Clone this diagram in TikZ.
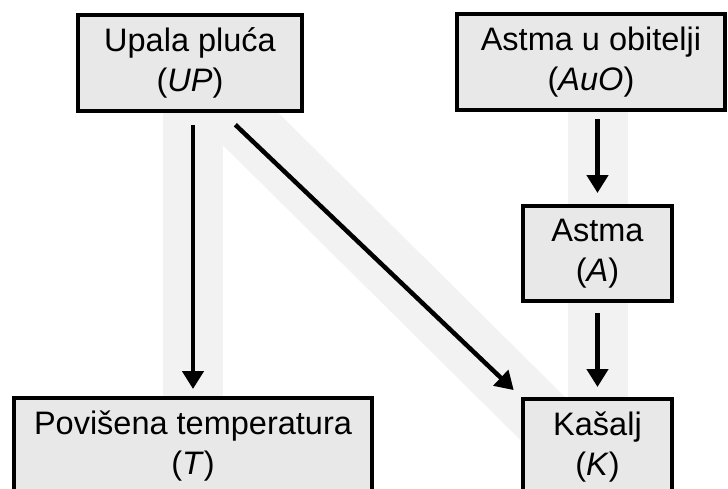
\documentclass[tikz,border=0pt]{standalone}
\usepackage{fontspec}
\setmainfont{Liberation Sans}
\usetikzlibrary{arrows.meta,backgrounds}
\definecolor{boxgray}{HTML}{E8E8E8}
\definecolor{bandgray}{HTML}{F2F2F2}

\begin{document}
\begin{tikzpicture}[x=1pt,y=-1pt]
        \tikzset{factor/.style = {shape=rectangle,draw,fill=boxgray,line width=4pt,align=center,
            inner sep=0pt,font=\fontsize{32.5}{40}\selectfont},
            band/.style = {line width=60pt,draw=bandgray},
            link/.style = {-{Triangle[length=18pt,width=21pt]},line width=4.5pt}};
        \clip (0,0) rectangle (728,488);
        \node[factor,minimum width=224pt,minimum height=96pt] (up) at (190,63) {Upala pluća\\(\textit{UP})};
        \node[factor,minimum width=268pt,minimum height=96pt] (auo) at (591,62) {Astma u obitelji\\(\textit{AuO})};
        \node[factor,minimum width=149pt,minimum height=95pt] (a) at (597.5,253.5) {Astma\\(\textit{A})};
        \node[factor,minimum width=358pt,minimum height=96pt] (t) at (193,446) {Povišena temperatura\\(\textit{T})};
        \node[factor,minimum width=149pt,minimum height=96pt] (k) at (597.5,447) {Kašalj\\(\textit{K})};
        \draw[link, shorten <=12pt, shorten >=7pt] (up.south -| t.north) -- (t.north);
        \draw[link, shorten <=7pt, shorten >=11pt] (auo.south -| a.north) -- (a.north);
        \draw[link, shorten <=10pt, shorten >=10pt] (a) -- (k);
        \draw[link, shorten <=17pt, shorten >=10pt] ([xshift=33pt]up.south) -- (k.north west);
        \begin{scope}[on background layer]
            \draw[band] (t) -- (t |- up);
            \draw[band] (a) -- (a |- auo);
            \draw[band] (a) -- (k);
            \draw[band, line width=62pt, shorten >=-40pt] ([xshift=-6pt]up.center) -- (k.north west);
        \end{scope}
    \end{tikzpicture}
\end{document}
